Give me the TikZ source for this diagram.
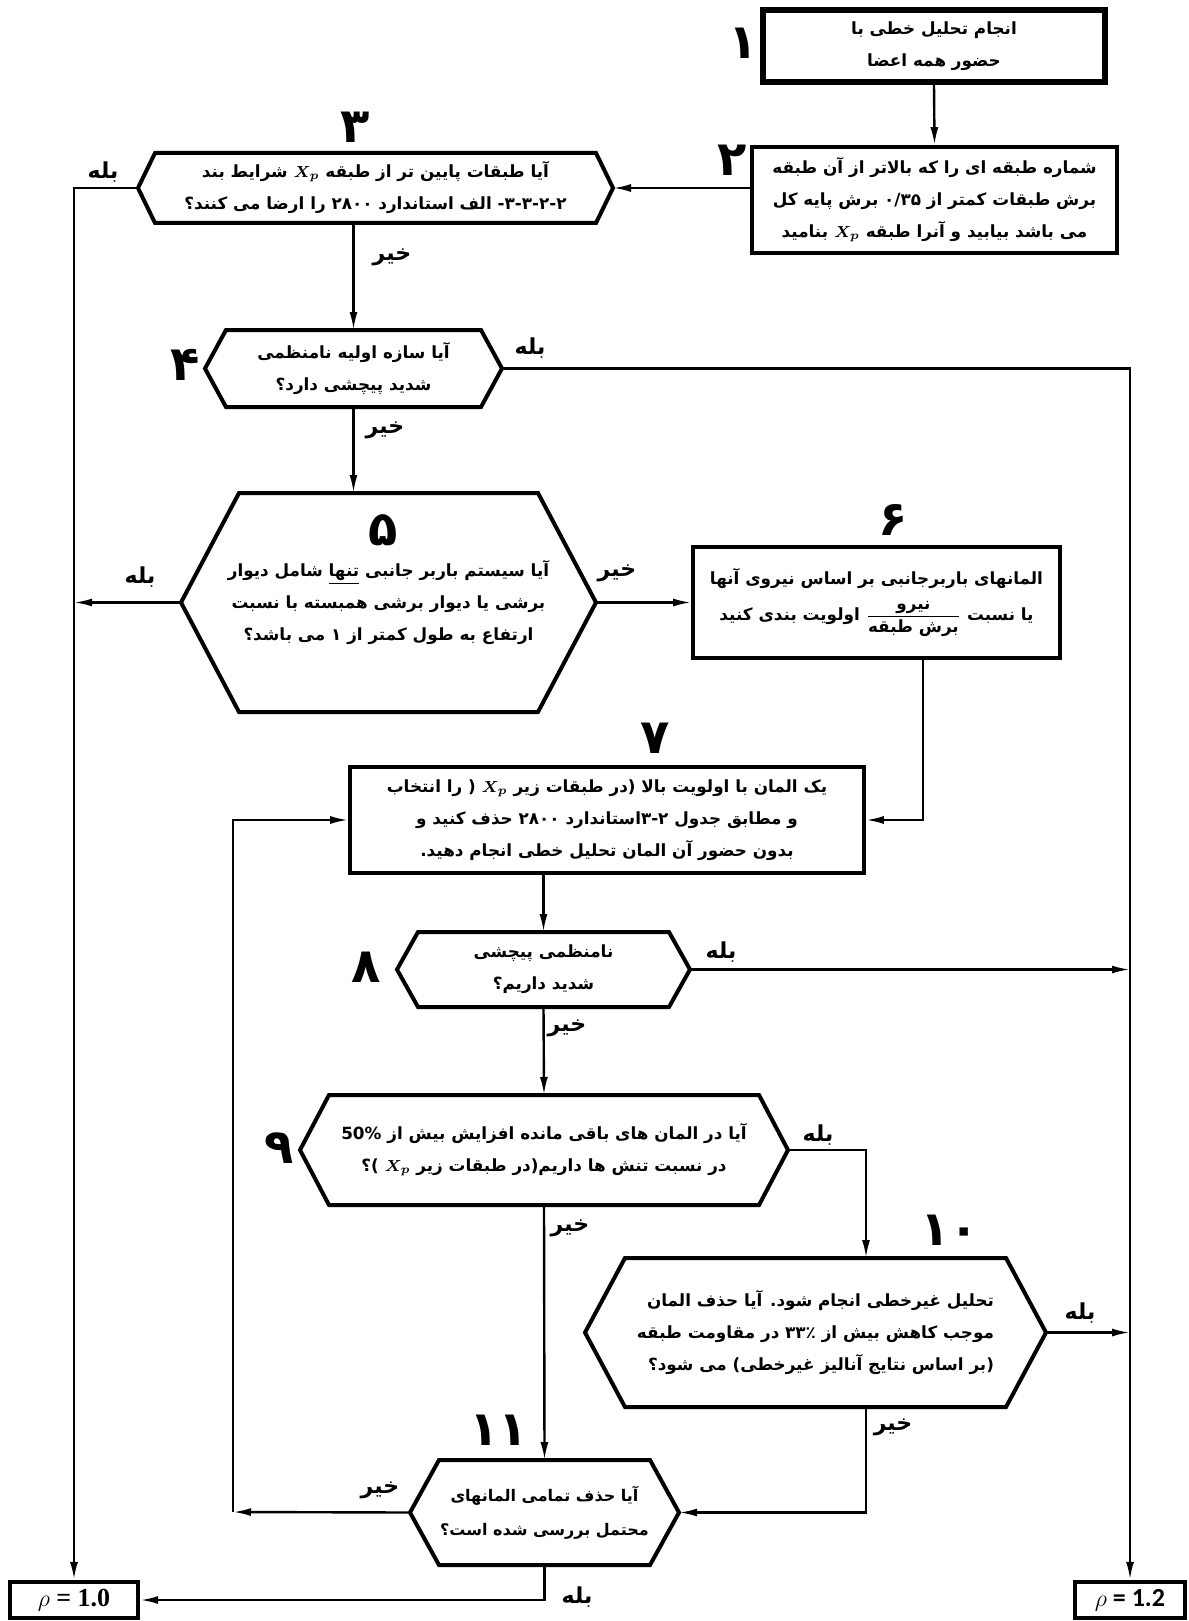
\documentclass[tikz,border=0pt]{standalone}
\usepackage{fontspec}
\usepackage{amsmath,amssymb}
\usepackage{xcolor}
\usetikzlibrary{arrows.meta,calc}
\TeXXeTstate=1
\newfontfamily\farsi[Script=Arabic]{DejaVu Sans}
\newfontfamily\calibfont{Carlito}
\newfontfamily\timesfont{Liberation Serif}
\newcommand{\fa}[1]{\beginR #1\endR}
\newcommand{\Xp}{\beginL{\boldmath$X_p$}\endL}

\begin{document}
\begin{tikzpicture}[x=0.5pt,y=-0.5pt,
    boxnode/.style={draw,line width=1.8pt,rectangle,align=center,inner sep=2pt,
        font=\farsi\bfseries\fontsize{8.4}{16}\selectfont},
    hexnode/.style={rectangle,align=center,inner sep=2pt,outer sep=0pt,
        font=\farsi\bfseries\fontsize{8.4}{16}\selectfont},
    hexline/.style={line width=2pt,line join=miter},
    numlabel/.style={font=\farsi\bfseries\fontsize{24}{24}\selectfont,inner sep=0pt},
    anslabel/.style={font=\farsi\bfseries\fontsize{11}{12}\selectfont,inner sep=0pt},
    rhobox/.style={draw,line width=2.2pt,inner sep=0pt},
    arr/.style={line width=1.2pt,-{Latex[length=9pt,width=4pt]}}]
    % Background
    \path[use as bounding box,fill=white] (0,0) rectangle (1188,1621);

    % Boxes and decisions
    \node[boxnode,line width=3pt,minimum width=171pt,minimum height=36pt] (b1) at (934,46)
        {\fa{انجام تحلیل خطی با}\\\fa{حضور همه اعضا}};
    \node[boxnode,minimum width=182.5pt,minimum height=53pt] (b2) at (934.5,200)
        {\fa{شماره طبقه ای را که بالاتر از آن طبقه}\\
         \fa{برش طبقات کمتر از ۰/۳۵ برش پایه کل}\\
         \fa{می باشد بیابید و آنرا طبقه \Xp{} بنامید}};
    \node[hexnode,minimum width=237.5pt,minimum height=35pt] (h3) at (375.5,188)
        {\fa{آیا طبقات پایین تر از طبقه \Xp{} شرایط بند}\\
         \fa{\beginL۳-۳-۲-۲\endL- الف استاندارد ۲۸۰۰ را ارضا می کنند؟}};
    \node[hexnode,minimum width=148.5pt,minimum height=38.5pt] (h4) at (353.5,368.5)
        {\fa{آیا سازه اولیه نامنظمی}\\\fa{شدید پیچشی دارد؟}};
    \node[hexnode,minimum width=207.5pt,minimum height=109.5pt] (h5) at (388.5,602.5)
        {\fa{آیا سیستم باربر جانبی \underline{تنها} شامل دیوار}\\
         \fa{برشی یا دیوار برشی همبسته با نسبت}\\
         \fa{ارتفاع به طول کمتر از ۱ می باشد؟}};
    \node[boxnode,minimum width=183.5pt,minimum height=55.5pt] (b6) at (876.5,602.5)
        {\fa{المانهای باربرجانبی بر اساس نیروی آنها}\\[2pt]
         \fa{یا نسبت \beginL$\dfrac{\mbox{\fa{نیرو}}}{\mbox{\fa{برش طبقه}}}$\endL{} اولویت بندی کنید}};
    \node[boxnode,minimum width=257pt,minimum height=53pt] (b7) at (607,820)
        {\fa{یک المان با اولویت بالا (در طبقات زیر \Xp{} ( را انتخاب}\\
         \fa{و مطابق جدول \beginL۳-۲\endL{}استاندارد ۲۸۰۰ حذف کنید و}\\
         \fa{بدون حضور آن المان تحلیل خطی انجام دهید.}};
    \node[hexnode,minimum width=146.5pt,minimum height=37.5pt] (h8) at (543.5,969.5)
        {\fa{نامنظمی پیچشی}\\\fa{شدید داریم؟}};
    \node[hexnode,minimum width=244pt,minimum height=55pt] (h9) at (544,1150)
        {\fa{آیا در المان های باقی مانده افزایش بیش از \beginL50\%\endL}\\
         \fa{در نسبت تنش ها داریم(در طبقات زیر \Xp{} )؟}};
    \node[hexnode,align=right,minimum width=230.5pt,minimum height=74.5pt] (h10) at (815.5,1332.5)
        {\fa{تحلیل غیرخطی انجام شود. آیا حذف المان}\\
         \fa{موجب کاهش بیش از ۳۳٪ در مقاومت طبقه}\\
         \fa{(بر اساس نتایج آنالیز غیرخطی) می شود؟}};
    \node[hexnode,minimum width=134.5pt,minimum height=52.5pt,
        font=\farsi\bfseries\fontsize{8}{17}\selectfont] (h11) at (544.5,1512.5)
        {\fa{آیا حذف تمامی المانهای}\\\fa{محتمل بررسی شده است؟}};

    % Results
    \node[rhobox,minimum width=64pt,minimum height=18pt,
        font=\timesfont\bfseries\fontsize{13}{13}\selectfont] (r1) at (74,1600) {$\rho$ = 1.0};
    \node[rhobox,minimum width=55pt,minimum height=18pt,
        font=\calibfont\bfseries\fontsize{13}{13}\selectfont] (r2) at (1130,1600) {$\rho$ = 1.2};

    % Hexagon outlines
    \foreach \n/\d in {h3/8.5pt,h4/10.5pt,h5/29pt,h8/10.5pt,h9/14.5pt,h10/20pt,h11/14.5pt} {
        \draw[hexline] ($(\n.north west)+(\d,0)$) -- ($(\n.north east)-(\d,0)$) -- (\n.east)
            -- ($(\n.south east)-(\d,0)$) -- ($(\n.south west)+(\d,0)$) -- (\n.west) -- cycle;
    }

    % Step numbers
    \node[numlabel] (n1) at (743,43) {۱};
    \node[numlabel] (n2) at (732,160) {۲};
    \node[numlabel] (n3) at (355,127) {۳};
    \node[numlabel] (n4) at (185,365) {۴};
    \node[numlabel] (n5) at (383,530) {۵};
    \node[numlabel] (n6) at (893,520) {۶};
    \node[numlabel] (n7) at (655,738) {۷};
    \node[numlabel] (n8) at (366,967) {۸};
    \node[numlabel] (n9) at (279,1148) {۹};
    \node[numlabel] (n10) at (950,1230) {۱۰};
    \node[numlabel] (n11) at (499,1430) {۱۱};

    % Turning points
    \coordinate (out6) at (923,658);
    \coordinate (col10) at (866,1258);
    \coordinate (loop) at (233,1512);

    % Connectors
    \draw[arr] (b1.south) -- (b2.north);
    \draw[arr] (b2.west |- h3.east) -- (h3.east);
    \draw[arr] (h3.west) -| (r1.north);
    \draw[arr] (h3.south -| h4.north) -- (h4.north);
    \draw[arr] (h4.east) -| (r2.north);
    \draw[arr] (h4.south) -- (h4.south |- h5.north);
    \draw[arr] (h5.west) -- (h5.west -| r1.north);
    \draw[arr] (h5.east) -- (b6.west);
    \draw[arr] (out6) |- (b7.east);
    \draw[arr] (b7.south -| h8.north) -- (h8.north);
    \draw[arr] (h8.east) -- (h8.east -| r2.north);
    \draw[arr] (h8.south) -- (h9.north);
    \draw[arr] (h9.east) -| (col10);
    \draw[arr] (h9.south) -- (h11.north);
    \draw[arr] (h10.east) -- (h10.east -| r2.north);
    \draw[arr] (h10.south -| col10) |- (h11.east);
    \draw[arr] (h11.west) -- (loop);
    \draw[arr] (loop) |- (b7.west);
    \draw[arr] (h11.south) |- (r1.east);

    % Answer labels
    \node[anslabel] (y3) at (103,172) {بله};
    \node[anslabel] (no3) at (392,257) {خیر};
    \node[anslabel] (y4) at (530,348) {بله};
    \node[anslabel] (no4) at (385,430) {خیر};
    \node[anslabel] (y5) at (140,577) {بله};
    \node[anslabel] (no5) at (617,573) {خیر};
    \node[anslabel] (y8) at (721,952) {بله};
    \node[anslabel] (no8) at (567,1028) {خیر};
    \node[anslabel] (y9) at (818,1135) {بله};
    \node[anslabel] (no9) at (570,1228) {خیر};
    \node[anslabel] (y10) at (1080,1313) {بله};
    \node[anslabel] (no10) at (893,1427) {خیر};
    \node[anslabel] (no11) at (380,1490) {خیر};
    \node[anslabel] (y11) at (577,1597) {بله};
\end{tikzpicture}
\end{document}
